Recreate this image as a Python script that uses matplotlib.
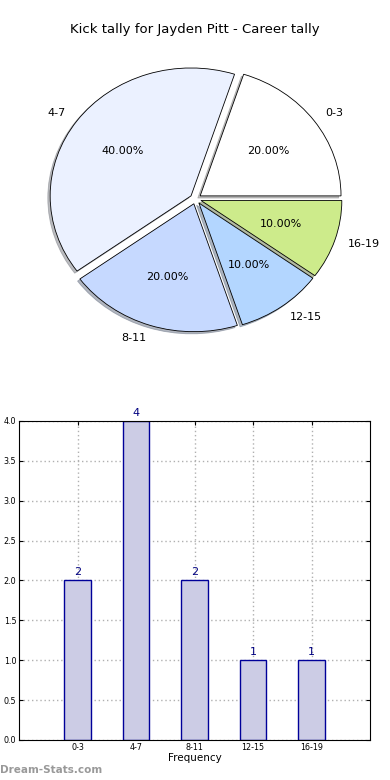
# kick tally chart: pie of distance ranges on top, bar chart of counts below
import numpy as np
import matplotlib.pyplot as plt

# data
ranges = ['0-3', '4-7', '8-11', '12-15', '16-19']
kicks = [2, 4, 2, 1, 1]
pie_colours = ['#ffffff', '#ebf1ff', '#c6d9ff', '#b3d6ff', '#cdeb8b']

fig = plt.figure(figsize=(3.9, 7.8), dpi=100)

# pie
ax1 = fig.add_axes([0.05, 0.540, 0.903, 0.410])
wedges, texts, autotexts = ax1.pie(kicks, labels=ranges, colors=pie_colours,
                                   explode=[0.04]*len(kicks),
                                   shadow={'ox': -0.012, 'oy': -0.012, 'shade': 0.5},
                                   autopct='%.2f%%', startangle=0,
                                   wedgeprops={'edgecolor': 'black', 'linewidth': 0.6},
                                   textprops={'fontsize': 8})
ax1.set_aspect('auto')
ax1.set_xlim(-1.25, 1.25)
ax1.set_ylim(-1.25, 1.25)
fig.text(0.5, 0.962, 'Kick tally for Jayden Pitt - Career tally',
         ha='center', va='center', fontsize=9.5)

# bars
ax2 = fig.add_axes([0.049, 0.0513, 0.9, 0.409])
x = np.arange(len(ranges))
ax2.bar(x, kicks, width=0.45, color='#ccccE5', edgecolor='#000099', linewidth=1.0, zorder=2)
for xi, k in zip(x, kicks):
    ax2.text(xi, k + 0.04, str(k), ha='center', va='bottom', color='#000080', fontsize=8)
ax2.set_xlim(-1, 5)
ax2.set_ylim(0, 4)
ax2.set_xticks(x)
ax2.set_xticklabels(ranges)
ax2.set_yticks(np.arange(0, 4.01, 0.5))
ax2.tick_params(labelsize=5.8, direction='in', top=True, right=True, length=3, pad=2)
ax2.grid(True, linestyle=(0, (1, 2)), color='#b0b0b0', linewidth=1.0, zorder=0)
ax2.set_axisbelow(True)
ax2.set_xlabel('Frequency', fontsize=7.5, labelpad=1)

fig.text(0.0, 0.013, 'Dream-Stats.com', color='#999999', fontsize=7.5,
         fontweight='bold', ha='left', va='center')

plt.savefig('out.png', dpi=100)
